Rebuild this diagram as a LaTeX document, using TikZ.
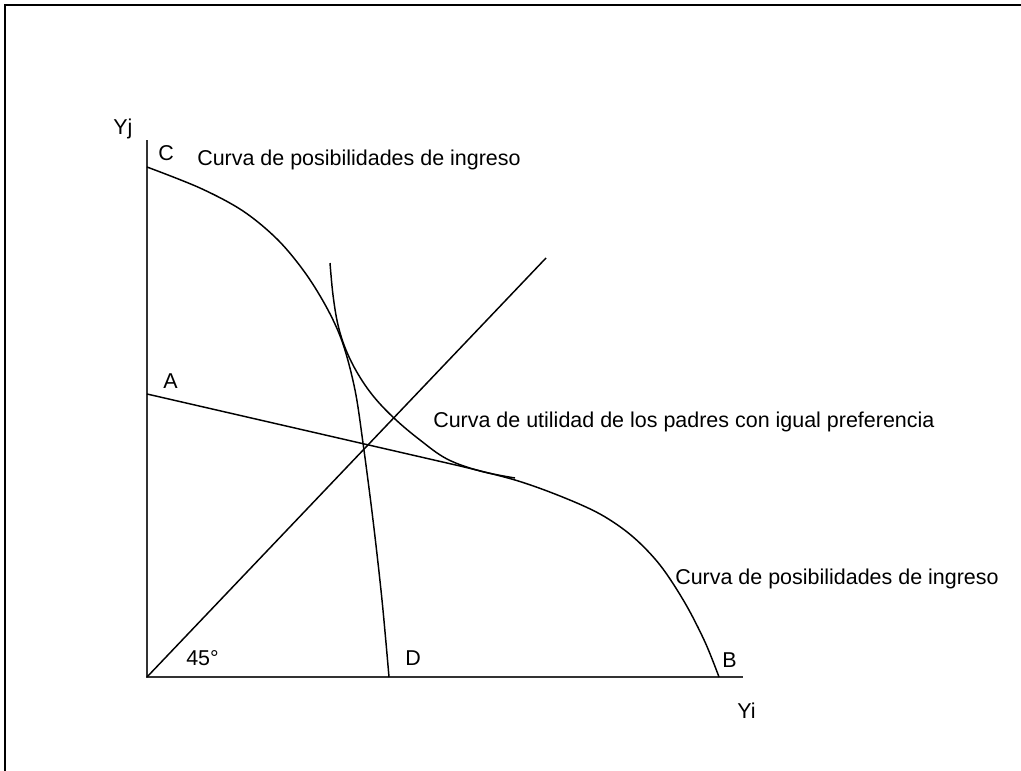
\documentclass[tikz,border=0pt]{standalone}
\usepackage{fontspec}
\setmainfont{Liberation Sans}
\begin{document}
\begin{tikzpicture}[x=0.75pt,y=-0.75pt,
  lbl/.style={anchor=base west,inner sep=0pt,font=\fontsize{16.1}{18}\selectfont},
  axisline/.style={line width=1.5pt,draw=black!80},
  curveline/.style={line width=1.1pt,line join=round},
  frameline/.style={line width=1.8pt}]
\useasboundingbox (0,0) rectangle (1021,771);
% frame (top and left only)
\draw[frameline] (5,771) -- (5,5) -- (1021,5);
% axes
\coordinate (O) at (147,677);
\coordinate (Ytop) at (147,140);
\coordinate (Xend) at (743,677);
\draw[axisline] (Ytop) -- (O) -- (Xend);
% 45 degree line
\coordinate (Dtop) at (546,258);
\draw[curveline] (O) -- (Dtop);
% income possibilities curve C-D
\coordinate (C) at (147,167);
\coordinate (D) at (389,677);
\draw[curveline] plot[smooth,tension=0.55] coordinates {(C) (200,188) (243,211) (278,240) (306,274) (328,310) (343,344) (355,390) (363,443) (373,520) (382,600) (D)};
% income possibilities curve A-B
\coordinate (A) at (147,394);
\coordinate (T) at (460,466);
\coordinate (B) at (719,677);
\draw[curveline] (A) -- (T);
\draw[curveline] plot[smooth,tension=0.55] coordinates {(T) (515,480) (560,496) (600,514) (632,536) (660,565) (685,603) (705,642) (B)};
% utility (indifference) curve
\draw[curveline] plot[smooth,tension=0.6] coordinates {(330,263) (333,295) (338,325) (346,350) (358,374) (374,397) (395,419) (420,440) (447,459) (480,471) (515,478)};
% labels
\node[lbl] (lYj) at (113,134) {Yj};
\node[lbl] (lC) at (158,160) {C};
\node[lbl] (lcurva1) at (197,165) {Curva de posibilidades de ingreso};
\node[lbl] (lA) at (163,388) {A};
\node[lbl] (lutil) at (433,427) {Curva de utilidad de los padres con igual preferencia};
\node[lbl] (lcurva2) at (675,584) {Curva de posibilidades de ingreso};
\node[lbl] (l45) at (186,665) {45°};
\node[lbl] (lD) at (405,665) {D};
\node[lbl] (lB) at (722,667) {B};
\node[lbl] (lYi) at (737,718) {Yi};
\end{tikzpicture}
\end{document}
